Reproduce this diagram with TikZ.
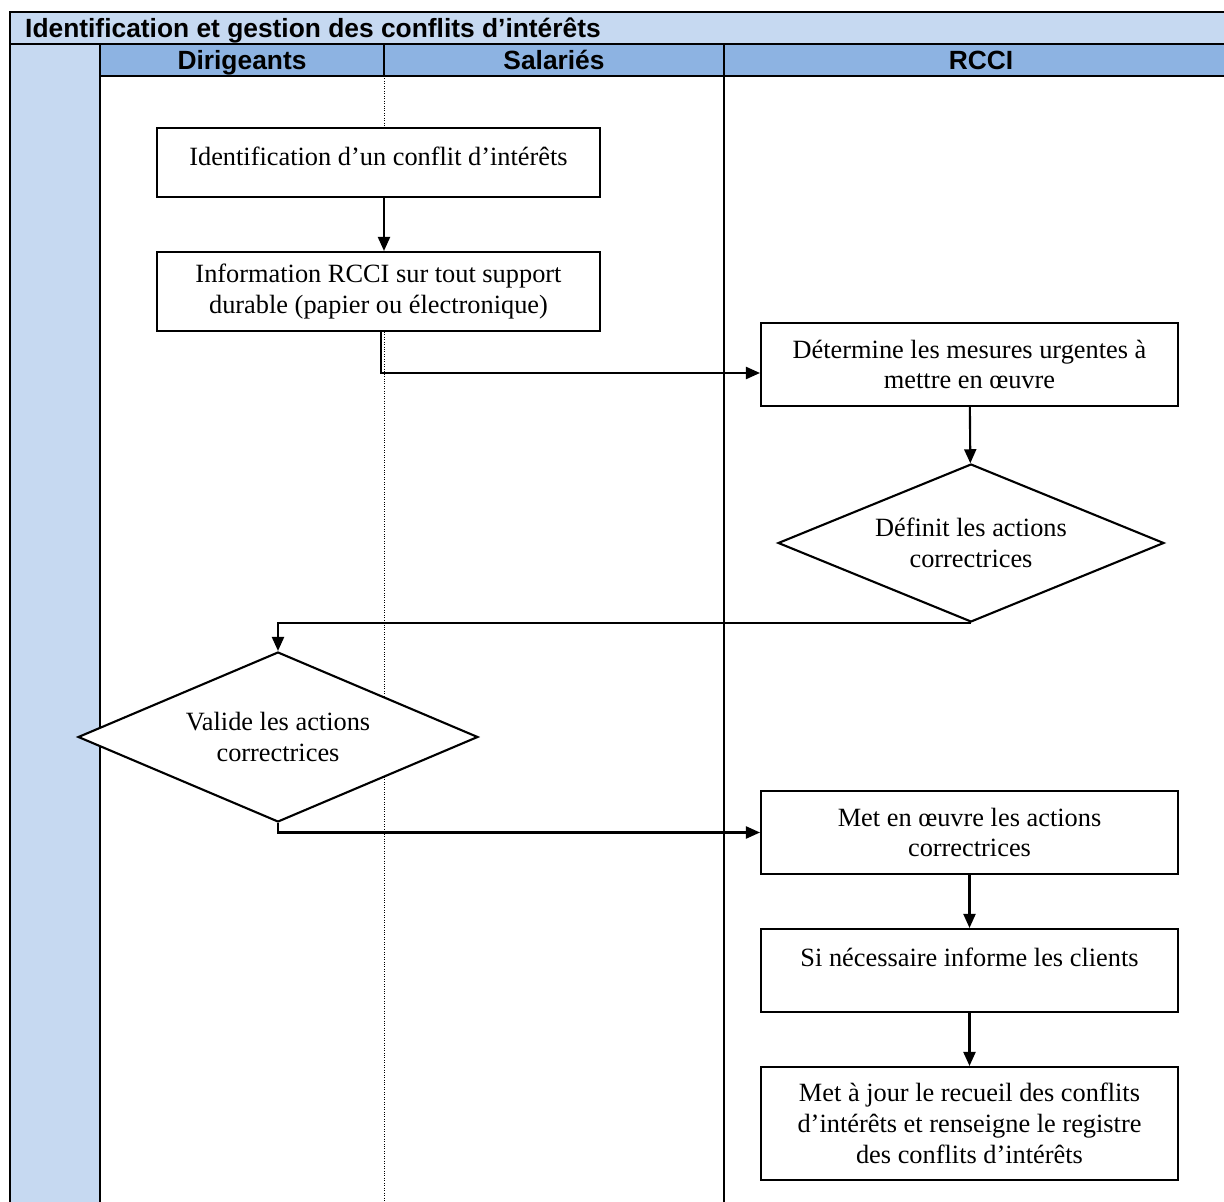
\documentclass[tikz,border=0pt]{standalone}
\usepackage{fontspec}
\setmainfont{Liberation Serif}
\setsansfont{Liberation Sans}
\usetikzlibrary{shapes.geometric,arrows.meta}

\definecolor{titleblue}{HTML}{C6D9F1}
\definecolor{laneblue}{HTML}{8DB3E2}

\tikzset{
    actbox/.style={draw, line width=1.2pt, fill=white, align=center,
        font=\fontsize{15}{17.6}\selectfont, inner sep=2pt},
    decision/.style={diamond, aspect=2.4, draw, line width=1.2pt, fill=white,
        align=center, font=\fontsize{15}{17.6}\selectfont, inner sep=0pt},
    flow/.style={line width=1.2pt, -{Triangle[length=0.28cm, width=0.24cm]}},
    lanehead/.style={font=\sffamily\bfseries\fontsize{15}{17}\selectfont}
}

\begin{document}
\begin{tikzpicture}[x=0.02cm, y=-0.02cm]
    \useasboundingbox (0,0) rectangle (1224,1202);

    % bands
    \fill[titleblue] (10,12) rectangle (1224,44);
    \fill[laneblue] (100,44) rectangle (1224,76);
    \fill[titleblue] (10,44) rectangle (100,1202);

    % frame and lanes
    \draw[line width=1.2pt] (10,1202) -- (10,12) -- (1224,12);
    \draw[line width=1.2pt] (10,44) -- (1224,44);
    \draw[line width=1.2pt] (100,76) -- (1224,76);
    \draw[line width=1.2pt] (100,44) -- (100,1202);
    \draw[line width=1.2pt] (724,44) -- (724,1202);
    \draw[line width=0.6pt] (384,44) -- (384,76);
    \draw[line width=0.4pt, densely dotted] (384,76) -- (384,1202);

    \node[lanehead, anchor=base west] (title) at (19,37.5)
        {Identification et gestion des conflits d’intérêts};
    \node[lanehead, anchor=base] (dir) at (242,69.5) {Dirigeants};
    \node[lanehead, anchor=base] (sal) at (554,69.5) {Salariés};
    \node[lanehead, anchor=base] (rcci) at (981,69.5) {RCCI};

    % steps
    \node[actbox, minimum width=8.86cm, minimum height=1.38cm] (ident)
        at (378.5,162.5) {Identification d’un conflit d’intérêts\\[-0.36cm]\mbox{}};
    \node[actbox, minimum width=8.86cm, minimum height=1.58cm] (info)
        at (378.5,291.5) {Information RCCI sur tout support\\durable (papier ou électronique)};
    \node[actbox, minimum width=8.34cm, minimum height=1.66cm] (urgent)
        at (969.5,364.5) {Détermine les mesures urgentes à\\mettre en œuvre};
    \node[decision, minimum width=7.72cm, minimum height=3.16cm] (definit)
        at (971,543) {Définit les actions\\correctrices};
    \node[decision, minimum width=8cm, minimum height=3.4cm] (valide)
        at (278,737) {Valide les actions\\correctrices};
    \node[actbox, minimum width=8.34cm, minimum height=1.66cm] (oeuvre)
        at (969.5,832.5) {Met en œuvre les actions\\correctrices};
    \node[actbox, minimum width=8.34cm, minimum height=1.66cm] (clients)
        at (969.5,970.5) {Si nécessaire informe les clients\\[-0.08cm]\mbox{}};
    \node[actbox, minimum width=8.34cm, minimum height=2.26cm] (registre)
        at (969.5,1123.5) {Met à jour le recueil des conflits\\d’intérêts et renseigne le registre\\des conflits d’intérêts};

    % connectors
    \draw[flow] ([xshift=0.11cm]ident.south) -- ([xshift=0.11cm]info.north);
    \draw[flow] ([xshift=0.05cm]info.south) |- ([yshift=-0.17cm]urgent.west);
    \draw[flow] (urgent) -- (definit);
    \draw[flow] (definit.south) -| (valide.north);
    \draw[flow] (valide.south) |- (oeuvre.west);
    \draw[flow] (oeuvre) -- (clients);
    \draw[flow] (clients) -- (registre);
\end{tikzpicture}
\end{document}
